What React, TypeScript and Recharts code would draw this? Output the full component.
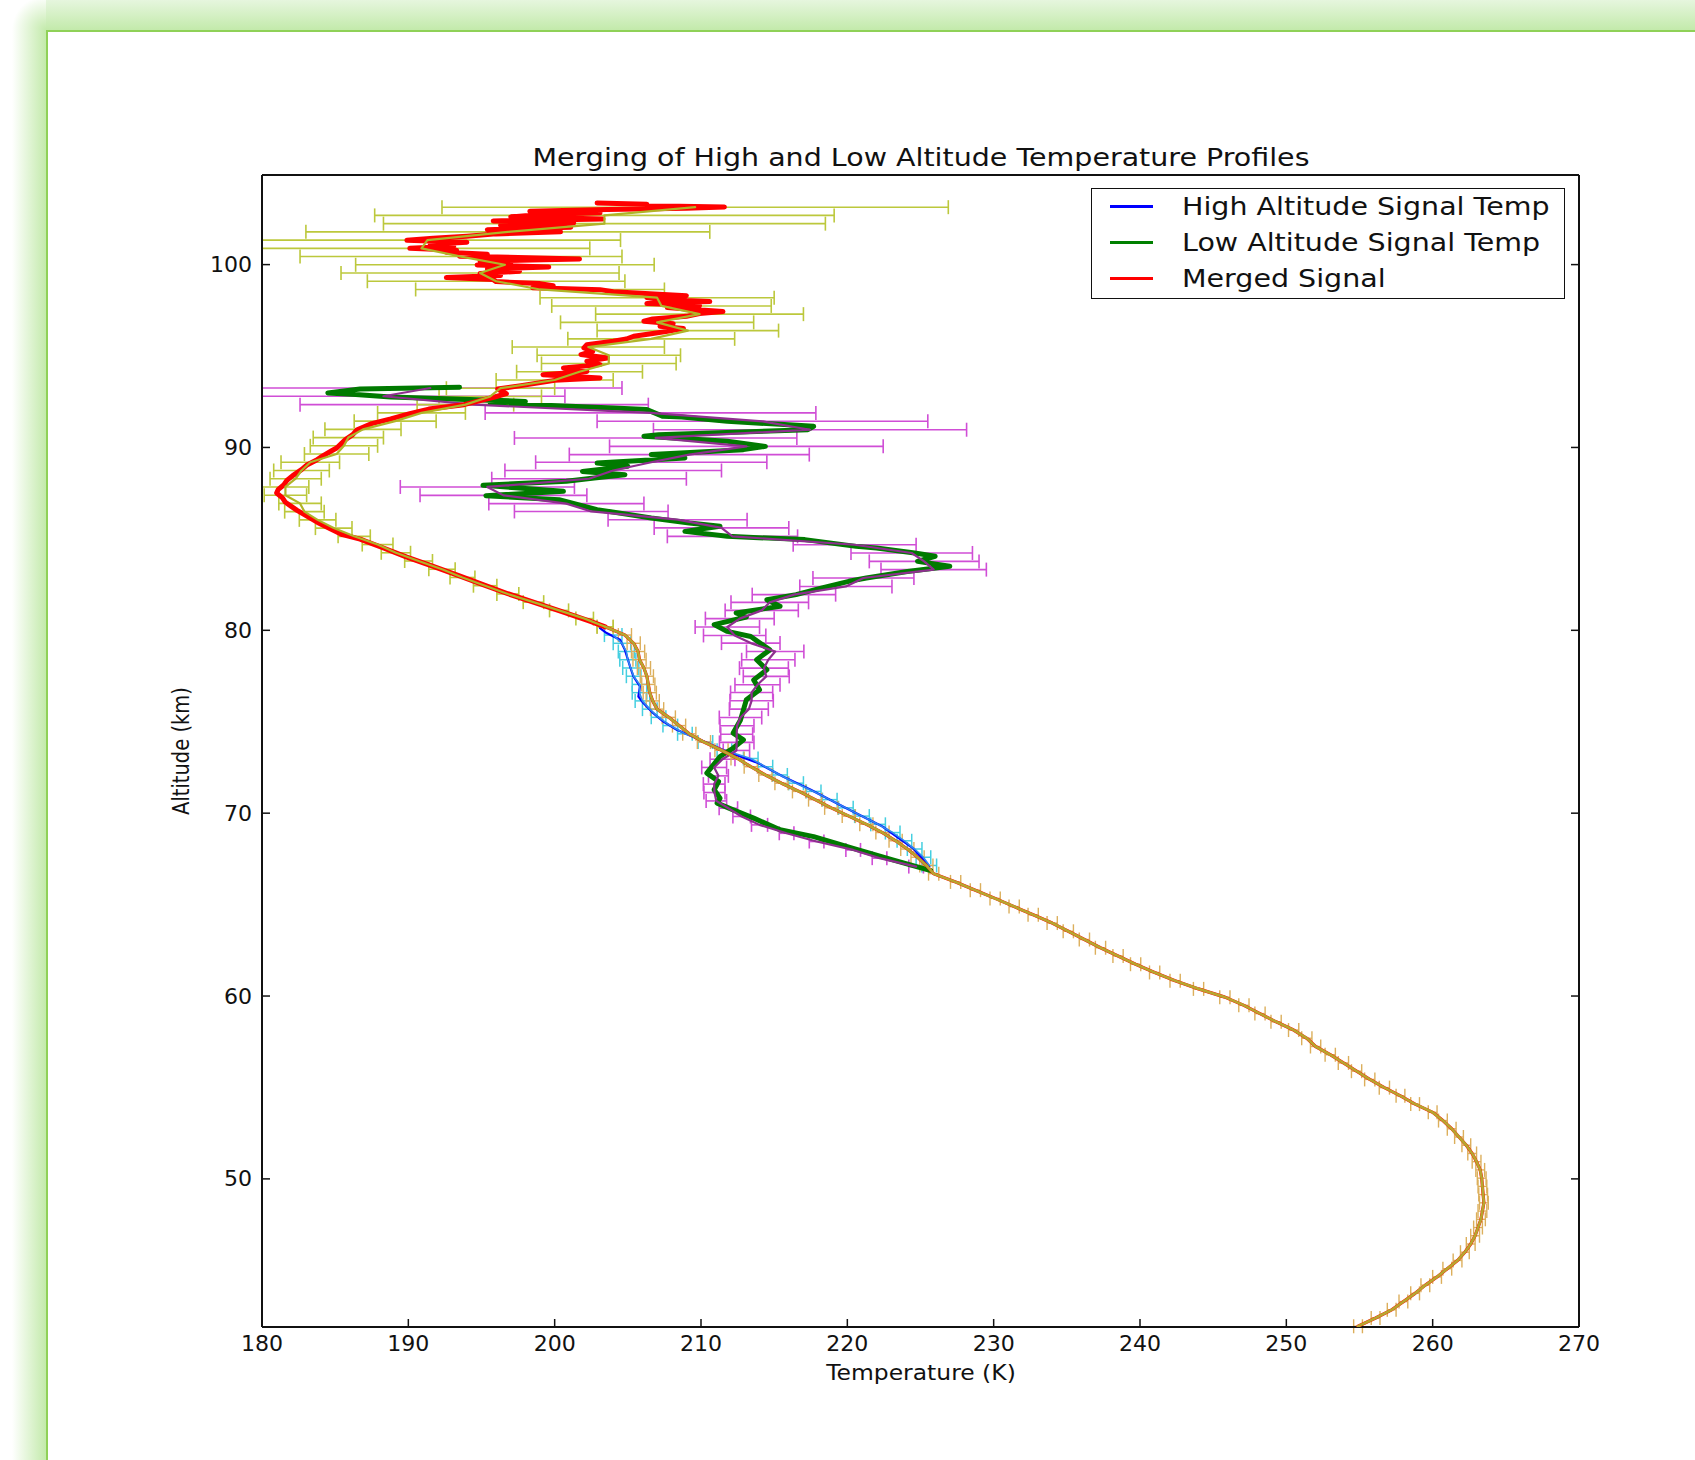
import React from 'react';
import { ScatterChart, Scatter, XAxis, YAxis, ErrorBar } from 'recharts';

const FONT = '"DejaVu Sans", Verdana, sans-serif';

const TITLE = 'Merging of High and Low Altitude Temperature Profiles';
const X_LABEL = 'Temperature (K)';
const Y_LABEL = 'Altitude (km)';
const X_DOMAIN: [number, number] = [180, 270];
const Y_DOMAIN: [number, number] = [41.9, 104.9];
const X_TICKS = [180, 190, 200, 210, 220, 230, 240, 250, 260, 270];
const Y_TICKS = [50, 60, 70, 80, 90, 100];
const LEGEND = [
  { label: 'High Altitude Signal Temp', color: '#0000ff' },
  { label: 'Low Altitude Signal Temp', color: '#008000' },
  { label: 'Merged Signal', color: '#ff0000' },
];

// Merged signal, binned, upper part (yellow-green error bars)
const mergedUpperAlt = [103.14, 102.69, 102.24, 101.79, 101.34, 100.89, 100.44, 99.99, 99.54, 99.09, 98.64, 98.19, 97.74, 97.29, 96.84, 96.39, 95.94, 95.49, 95.04, 94.59, 94.14, 93.69, 93.24, 92.79, 92.34, 91.89, 91.44, 90.99, 90.54, 90.09, 89.64, 89.19, 88.74, 88.29, 87.84, 87.39, 86.94, 86.49, 86.04, 85.59, 85.14, 84.69, 84.24, 83.79, 83.34, 82.89, 82.44, 81.99, 81.54, 81.09, 80.64, 80.19];
const mergedUpperTemp = [209.6, 203.4, 203.4, 196.8, 191.3, 190.9, 193.6, 196.6, 194.9, 196.0, 199.0, 207.0, 207.3, 209.9, 207.0, 209.1, 206.6, 202.3, 203.7, 203.7, 201.7, 200.0, 196.3, 195.6, 193.9, 190.9, 189.1, 186.9, 185.9, 185.6, 185.1, 183.3, 182.7, 182.3, 181.6, 181.6, 182.6, 182.9, 183.8, 184.9, 186.3, 187.9, 189.15, 190.7, 192.3, 193.7, 195.25, 196.8, 198.55, 200.3, 202.05, 203.45];
const mergedUpperErr = [17.3, 15.7, 15.1, 13.8, 13.2, 11.5, 11.0, 10.2, 9.5, 8.8, 8.5, 8.0, 7.5, 7.1, 6.6, 6.2, 5.7, 5.2, 4.9, 4.6, 4.3, 4.0, 3.7, 3.5, 3.3, 3.0, 2.8, 2.6, 2.4, 2.3, 2.2, 2.0, 1.9, 1.75, 1.6, 1.45, 1.45, 1.35, 1.25, 1.25, 1.1, 1.05, 1.0, 0.95, 0.9, 0.85, 0.8, 0.75, 0.7, 0.65, 0.6, 0.55];

// Merged signal, binned, lower part (tan error bars)
const mergedLowerAlt = [80.19, 79.74, 79.29, 78.84, 78.39, 77.94, 77.49, 77.04, 76.59, 76.14, 75.69, 75.24, 74.79, 74.34, 73.89, 73.44, 72.99, 72.54, 72.09, 71.64, 71.19, 70.74, 70.29, 69.84, 69.39, 68.94, 68.49, 68.04, 67.59, 67.14, 66.69, 66.24, 65.79, 65.34, 64.89, 64.44, 63.99, 63.54, 63.09, 62.64, 62.19, 61.74, 61.29, 60.84, 60.39, 59.94, 59.49, 59.04, 58.59, 58.14, 57.69, 57.24, 56.79, 56.34, 55.89, 55.44, 54.99, 54.54, 54.09, 53.64, 53.19, 52.74, 52.29, 51.84, 51.39, 50.94, 50.49, 50.04, 49.59, 49.14, 48.69, 48.24, 47.79, 47.34, 46.89, 46.44, 45.99, 45.54, 45.09, 44.64, 44.19, 43.74, 43.29, 42.84, 42.39, 41.94];
const mergedLowerTemp = [203.45, 204.8, 205.4, 205.7, 205.8, 206.1, 206.3, 206.4, 206.5, 206.7, 207.0, 207.8, 208.5, 209.2, 210.2, 211.4, 212.5, 213.4, 214.4, 215.5, 216.7, 217.8, 218.9, 220.1, 221.3, 222.4, 223.3, 224.1, 224.8, 225.4, 225.9, 227.4, 228.75, 230.1, 231.4, 232.7, 234.0, 235.1, 236.2, 237.3, 238.5, 239.7, 241.0, 242.4, 244.0, 245.8, 247.1, 248.2, 249.3, 250.5, 251.4, 252.0, 253.0, 253.9, 254.8, 255.7, 256.7, 257.8, 258.8, 260.0, 260.7, 261.3, 261.8, 262.3, 262.7, 263.0, 263.25, 263.35, 263.4, 263.45, 263.5, 263.4, 263.3, 263.1, 262.9, 262.6, 262.2, 261.7, 261.0, 260.3, 259.5, 258.8, 258.0, 257.2, 256.1, 254.9];
const mergedLowerErr = [0.55, 0.45, 0.45, 0.45, 0.45, 0.45, 0.45, 0.45, 0.45, 0.45, 0.45, 0.45, 0.45, 0.45, 0.45, 0.45, 0.45, 0.45, 0.45, 0.45, 0.45, 0.45, 0.45, 0.45, 0.45, 0.45, 0.45, 0.45, 0.45, 0.45, 0.35, 0.35, 0.35, 0.35, 0.35, 0.35, 0.35, 0.35, 0.35, 0.35, 0.35, 0.35, 0.35, 0.35, 0.35, 0.35, 0.35, 0.35, 0.35, 0.35, 0.35, 0.35, 0.35, 0.35, 0.35, 0.35, 0.35, 0.3, 0.3, 0.3, 0.3, 0.3, 0.3, 0.3, 0.3, 0.3, 0.3, 0.3, 0.3, 0.3, 0.3, 0.3, 0.3, 0.3, 0.3, 0.3, 0.3, 0.3, 0.3, 0.3, 0.3, 0.3, 0.3, 0.3, 0.3, 0.3];

// Merged signal, raw (thick red), upper part
const mergedRawAlt = [103.37, 103.30, 103.23, 103.15, 103.08, 103.01, 102.92, 102.83, 102.74, 102.61, 102.50, 102.39, 102.28, 102.15, 102.04, 101.91, 101.79, 101.68, 101.55, 101.44, 101.33, 101.22, 101.11, 101.00, 100.89, 100.78, 100.67, 100.56, 100.46, 100.31, 100.20, 100.09, 99.98, 99.87, 99.76, 99.64, 99.51, 99.40, 99.29, 99.18, 99.07, 98.96, 98.85, 98.74, 98.63, 98.52, 98.41, 98.30, 98.20, 98.09, 97.98, 97.87, 97.76, 97.65, 97.54, 97.43, 97.32, 97.17, 97.03, 96.90, 96.77, 96.63, 96.50, 96.35, 96.23, 96.08, 95.93, 95.81, 95.62, 95.44, 95.26, 95.08, 94.89, 94.71, 94.53, 94.35, 94.16, 93.98, 93.80, 93.67, 93.38, 93.20, 92.94, 92.76, 92.34, 92.10, 91.85, 91.56, 91.30, 90.97, 90.70, 90.43, 89.97, 89.79, 89.51, 89.30, 89.06, 88.79, 88.46, 88.20, 87.96, 87.69, 87.51, 87.24, 87.00, 86.78, 86.56, 86.23, 85.90, 85.54, 85.23, 84.99, 84.50, 84.00, 83.50, 83.00, 82.50, 82.00, 81.50, 81.00, 80.50, 80.19];
const mergedRawTemp = [202.9, 206.3, 205.4, 211.6, 209.0, 203.6, 198.3, 203.1, 199.0, 197.0, 203.3, 195.8, 201.3, 196.3, 201.1, 195.4, 200.4, 196.0, 194.0, 191.7, 189.9, 194.0, 191.5, 193.1, 190.1, 193.3, 192.6, 195.4, 193.5, 201.7, 194.9, 197.0, 194.7, 199.6, 195.4, 197.6, 194.9, 196.3, 192.6, 195.8, 196.0, 199.0, 199.9, 198.5, 203.1, 204.0, 206.5, 209.0, 206.3, 207.2, 210.6, 206.3, 209.9, 207.7, 209.5, 211.5, 209.9, 209.0, 206.7, 206.1, 208.1, 207.2, 208.8, 207.7, 206.7, 205.4, 204.9, 204.0, 202.2, 202.0, 202.6, 201.8, 203.6, 202.2, 203.1, 200.6, 202.2, 199.2, 203.1, 200.0, 197.7, 196.1, 196.7, 195.9, 193.8, 191.4, 190.1, 188.8, 187.5, 186.5, 186.2, 185.7, 185.1, 184.7, 184.1, 183.7, 183.1, 182.7, 182.1, 181.7, 181.5, 181.1, 181.0, 181.4, 181.6, 182.0, 182.4, 183.1, 183.8, 184.7, 185.5, 186.7, 188.3, 189.9, 191.7, 193.4, 195.1, 196.8, 198.7, 200.6, 202.4, 203.45];

// Low altitude signal, raw (thick green)
const lowRawAlt = [93.29, 93.20, 92.98, 92.89, 92.76, 92.52, 92.43, 92.16, 92.07, 91.70, 91.67, 91.43, 91.25, 91.16, 90.97, 90.70, 90.61, 90.34, 90.06, 89.88, 89.61, 89.42, 89.15, 88.97, 88.69, 88.51, 88.33, 88.15, 87.93, 87.60, 87.36, 87.14, 86.60, 86.14, 85.87, 85.69, 85.41, 85.14, 84.96, 84.59, 84.50, 84.23, 84.05, 83.77, 83.50, 83.22, 82.86, 82.68, 82.31, 81.95, 81.67, 81.31, 80.95, 80.73, 80.31, 79.94, 79.66, 78.93, 78.39, 77.84, 77.29, 76.75, 76.20, 75.65, 75.10, 74.38, 74.01, 73.56, 73.10, 72.19, 71.73, 71.28, 70.82, 70.55, 70.18, 69.73, 69.09, 68.72, 68.08, 67.45, 66.86];
const lowRawTemp = [193.5, 186.7, 184.5, 186.4, 188.8, 198.0, 195.6, 204.0, 206.3, 207.4, 208.7, 211.8, 215.7, 217.7, 217.3, 207.1, 206.1, 211.8, 214.4, 212.9, 206.6, 208.9, 202.9, 205.0, 201.9, 204.8, 202.7, 200.8, 195.1, 200.6, 195.3, 200.3, 202.9, 206.6, 209.2, 211.3, 208.9, 211.8, 217.1, 220.6, 222.0, 224.6, 226.0, 224.8, 227.0, 224.1, 221.3, 220.1, 218.2, 216.5, 214.5, 215.4, 212.4, 213.1, 210.9, 211.8, 213.4, 214.7, 213.8, 214.5, 213.6, 214.0, 213.1, 212.9, 212.7, 212.2, 212.9, 212.2, 211.3, 210.4, 211.2, 210.9, 211.3, 211.1, 212.2, 213.6, 215.4, 217.7, 220.4, 223.1, 225.7];

// Low altitude signal, binned (purple line, magenta error bars)
const lowAlt = [93.25, 92.80, 92.34, 91.89, 91.43, 90.97, 90.52, 90.06, 89.61, 89.19, 88.74, 88.29, 87.84, 87.38, 86.93, 86.50, 86.05, 85.60, 85.14, 84.68, 84.23, 83.77, 83.32, 82.86, 82.40, 81.95, 81.53, 81.09, 80.64, 80.18, 79.72, 79.30, 78.84, 78.39, 77.93, 77.48, 77.02, 76.60, 76.15, 75.69, 75.23, 74.78, 74.32, 73.87, 73.43, 72.95, 72.50, 72.04, 71.59, 71.13, 70.67, 70.27, 69.82, 69.36, 68.90, 68.45, 67.99, 67.54, 67.08];
const lowTemp = [191.5, 188.3, 194.5, 206.55, 214.2, 217.45, 206.9, 213.1, 209.2, 206.6, 204.0, 202.35, 195.4, 196.5, 200.8, 202.5, 208.4, 211.4, 212.15, 220.5, 224.4, 225.25, 225.9, 221.1, 219.9, 216.35, 214.7, 214.15, 212.65, 211.8, 212.3, 213.4, 215.07, 214.6, 214.3, 214.46, 213.86, 213.46, 213.46, 213.27, 212.7, 212.46, 212.44, 212.44, 212.42, 211.47, 210.9, 211.19, 210.9, 210.92, 211.05, 211.87, 212.78, 214.0, 215.85, 217.9, 220.4, 222.2, 224.7];
const lowErr = [13.1, 12.4, 11.9, 11.3, 11.3, 10.7, 9.65, 9.35, 8.2, 7.9, 7.4, 6.65, 5.95, 5.7, 5.3, 5.25, 4.75, 4.6, 4.45, 4.2, 4.15, 3.75, 3.6, 3.45, 3.15, 2.85, 2.65, 2.5, 2.35, 2.2, 2.13, 2.0, 1.96, 1.82, 1.67, 1.57, 1.54, 1.44, 1.48, 1.33, 1.45, 1.16, 1.09, 1.18, 0.9, 0.85, 0.85, 0.68, 0.74, 0.72, 0.7, 0.63, 0.6, 0.55, 0.5, 0.5, 0.5, 0.5, 0.5];

// High altitude signal, raw (blue)
const highRawAlt = [80.12, 79.85, 79.48, 78.93, 78.02, 77.48, 76.93, 76.38, 76.02, 75.47, 75.01, 74.56, 74.01, 73.37, 72.74, 72.01, 71.28, 70.36, 69.27, 68.08, 67.08];
const highRawTemp = [203.1, 203.55, 204.47, 204.8, 205.15, 205.38, 205.83, 205.72, 206.06, 206.74, 207.43, 208.34, 209.93, 211.76, 213.9, 215.6, 217.5, 219.7, 222.4, 224.5, 225.6];

// High altitude signal, binned (cyan error bars)
const highAlt = [79.74, 79.29, 78.84, 78.39, 77.94, 77.49, 77.04, 76.59, 76.14, 75.69, 75.24, 74.79, 74.34, 73.89, 73.44, 72.99, 72.54, 72.09, 71.64, 71.19, 70.74, 70.29, 69.84, 69.39, 68.94, 68.49, 68.04, 67.59, 67.14];
const highTemp = [204.0, 204.6, 204.9, 205.0, 205.2, 205.4, 205.8, 205.8, 206.0, 206.5, 207.1, 207.9, 208.9, 210.3, 211.6, 213.4, 214.4, 215.4, 216.5, 217.7, 218.8, 219.9, 221.0, 222.1, 223.1, 223.9, 224.6, 225.2, 225.6];
const highErr = [0.6, 0.6, 0.55, 0.55, 0.55, 0.5, 0.5, 0.5, 0.5, 0.5, 0.5, 0.5, 0.5, 0.5, 0.5, 0.5, 0.5, 0.5, 0.5, 0.5, 0.5, 0.5, 0.5, 0.5, 0.5, 0.5, 0.5, 0.5, 0.5];

type Pt = { alt: number; t: number; err: number };
const zip = (alt: number[], temp: number[], err?: number[]): Pt[] => {
  const n = Math.min(alt.length, temp.length);
  const out: Pt[] = [];
  for (let i = 0; i < n; i++) out.push({ alt: alt[i], t: temp[i], err: err ? err[i] ?? 0 : 0 });
  return out;
};

const mergedUpper = zip(mergedUpperAlt, mergedUpperTemp, mergedUpperErr);
const mergedLower = zip(mergedLowerAlt, mergedLowerTemp, mergedLowerErr);
const mergedRaw = zip(mergedRawAlt, mergedRawTemp);
const lowRaw = zip(lowRawAlt, lowRawTemp);
const lowBinned = zip(lowAlt, lowTemp, lowErr);
const highRaw = zip(highRawAlt, highRawTemp);
const highBinned = zip(highAlt, highTemp, highErr);

// error extent limited to the visible axis range (the axes clip the bars)
const clippedErr = (d: Pt) => [Math.min(d.err, d.t - X_DOMAIN[0]), Math.min(d.err, X_DOMAIN[1] - d.t)];

const W = 1695;
const H = 1460;
const PLOT = { left: 262, right: 1579, top: 175, bottom: 1327 };
const Y_AXIS_W = 80;
const X_AXIS_H = 60;
const EDGE = 10;

const Empty = () => <g />;

const XTick = (props: any) => {
  const { x, y, payload } = props;
  return (
    <g transform={`translate(${x},${y}) scale(1.05,1)`}>
      <text x={0} y={0} dy="0.76em" textAnchor="middle" fontFamily={FONT} fontSize={21} fill="#111">
        {payload.value}
      </text>
    </g>
  );
};

const YTick = (props: any) => {
  const { x, y, payload } = props;
  return (
    <g transform={`translate(${x},${y}) scale(1.05,1)`}>
      <text x={0} y={0} dy="0.36em" textAnchor="end" fontFamily={FONT} fontSize={21} fill="#111">
        {payload.value}
      </text>
    </g>
  );
};

const axisLine = { stroke: '#111', strokeWidth: 2 };
const tickLine = { stroke: '#111', strokeWidth: 1.5 };
const join = { strokeLinejoin: 'round' as const, strokeLinecap: 'round' as const };

export default function App() {
  return (
    <div style={{ position: 'absolute', left: 0, top: 0, width: W, height: H, background: '#fff', overflow: 'hidden', fontFamily: FONT }}>
      {/* frame */}
      <div style={{ position: 'absolute', left: 12, top: 30, width: 34, height: H, background: 'linear-gradient(to right, #ffffff, #c3eaab)' }} />
      <div style={{ position: 'absolute', left: 46, top: 0, width: W, height: 30, background: 'linear-gradient(to bottom, #e6f6de, #c3eaab)' }} />
      <div style={{ position: 'absolute', left: 12, top: 0, width: 34, height: 30, background: 'radial-gradient(circle at 100% 100%, #c3eaab 0px, #ffffff 34px)' }} />
      <div style={{ position: 'absolute', left: 46, top: 30, width: W, height: H, borderLeft: '2px solid #8fd157', borderTop: '2px solid #8fd157', background: '#fff' }} />

      <div style={{ position: 'absolute', left: 0, top: 0 }}>
        <ScatterChart
          width={W}
          height={H}
          margin={{ left: PLOT.left - Y_AXIS_W, right: W - PLOT.right - EDGE, top: PLOT.top - EDGE, bottom: H - PLOT.bottom - X_AXIS_H }}
        >
          <XAxis
            xAxisId="b"
            type="number"
            dataKey="t"
            domain={X_DOMAIN}
            ticks={X_TICKS}
            interval={0}
            allowDataOverflow
            orientation="bottom"
            height={X_AXIS_H}
            tickSize={-8}
            tickMargin={16}
            axisLine={axisLine}
            tickLine={tickLine}
            tick={XTick}
          />
          <XAxis
            xAxisId="t"
            type="number"
            domain={X_DOMAIN}
            ticks={X_TICKS}
            interval={0}
            allowDataOverflow
            orientation="top"
            height={EDGE}
            tickSize={-8}
            axisLine={axisLine}
            tickLine={tickLine}
            tick={Empty}
          />
          <YAxis
            yAxisId="l"
            type="number"
            dataKey="alt"
            domain={Y_DOMAIN}
            ticks={Y_TICKS}
            interval={0}
            allowDataOverflow
            orientation="left"
            width={Y_AXIS_W}
            tickSize={-8}
            tickMargin={18}
            axisLine={axisLine}
            tickLine={tickLine}
            tick={YTick}
          />
          <YAxis
            yAxisId="r"
            type="number"
            domain={Y_DOMAIN}
            ticks={Y_TICKS}
            interval={0}
            allowDataOverflow
            orientation="right"
            width={EDGE}
            tickSize={-8}
            axisLine={axisLine}
            tickLine={tickLine}
            tick={Empty}
          />

          {/* High altitude raw + binned */}
          <Scatter xAxisId="b" yAxisId="l" data={highRaw} line={{ stroke: '#0000ff', strokeWidth: 2.2, ...join }} shape={Empty} isAnimationActive={false} legendType="none" />
          <Scatter xAxisId="b" yAxisId="l" data={highBinned} line={{ stroke: '#2f8cf0', strokeWidth: 1.6, ...join }} shape={Empty} isAnimationActive={false} legendType="none">
            <ErrorBar dataKey={clippedErr} direction="x" width={7} stroke="#45cfe0" strokeWidth={1.5} isAnimationActive={false} />
          </Scatter>

          {/* Low altitude raw + binned */}
          <Scatter xAxisId="b" yAxisId="l" data={lowRaw} line={{ stroke: '#007a00', strokeWidth: 5, ...join }} shape={Empty} isAnimationActive={false} legendType="none" />
          <Scatter xAxisId="b" yAxisId="l" data={lowBinned} line={{ stroke: '#8e2f8e', strokeWidth: 2.2, ...join }} shape={Empty} isAnimationActive={false} legendType="none">
            <ErrorBar dataKey={clippedErr} direction="x" width={7} stroke="#d04ed6" strokeWidth={1.6} isAnimationActive={false} />
          </Scatter>

          {/* Merged raw (red) */}
          <Scatter xAxisId="b" yAxisId="l" data={mergedLower} line={{ stroke: '#ff0000', strokeWidth: 3.2, ...join }} shape={Empty} isAnimationActive={false} legendType="none" />
          <Scatter xAxisId="b" yAxisId="l" data={mergedRaw} line={{ stroke: '#ff0000', strokeWidth: 5, ...join }} shape={Empty} isAnimationActive={false} legendType="none" />

          {/* Merged binned */}
          <Scatter xAxisId="b" yAxisId="l" data={mergedLower} line={{ stroke: '#b8a62e', strokeWidth: 2.7, ...join }} shape={Empty} isAnimationActive={false} legendType="none">
            <ErrorBar dataKey={clippedErr} direction="x" width={7} stroke="#dcaf5c" strokeWidth={1.4} isAnimationActive={false} />
          </Scatter>
          <Scatter xAxisId="b" yAxisId="l" data={mergedUpper} line={{ stroke: '#b0b428', strokeWidth: 2.2, ...join }} shape={Empty} isAnimationActive={false} legendType="none">
            <ErrorBar dataKey={clippedErr} direction="x" width={7} stroke="#bcc83c" strokeWidth={1.6} isAnimationActive={false} />
          </Scatter>
        </ScatterChart>
      </div>

      {/* title */}
      <div style={{ position: 'absolute', left: (PLOT.left + PLOT.right) / 2, top: 145, fontSize: 25, lineHeight: 1, whiteSpace: 'nowrap', color: '#111', transform: 'translateX(-50%) scaleX(1.14)' }}>
        {TITLE}
      </div>

      {/* x label */}
      <div style={{ position: 'absolute', left: (PLOT.left + PLOT.right) / 2, top: 1362, fontSize: 21.5, lineHeight: 1, whiteSpace: 'nowrap', color: '#111', transform: 'translateX(-50%) scaleX(1.09)' }}>
        {X_LABEL}
      </div>

      {/* y label */}
      <div style={{ position: 'absolute', left: 182, top: (PLOT.top + PLOT.bottom) / 2, fontSize: 19.5, lineHeight: 1, whiteSpace: 'nowrap', color: '#111', transform: 'translate(-50%,-50%) scaleX(1.14) rotate(-90deg)' }}>
        {Y_LABEL}
      </div>

      {/* legend */}
      <div style={{ position: 'absolute', left: 1091, top: 188, width: 474, height: 111, boxSizing: 'border-box', border: '1.6px solid #111', background: '#fff' }}>
        {LEGEND.map((e, i) => (
          <React.Fragment key={e.label}>
            <div style={{ position: 'absolute', left: 18, top: 15.5 + i * 36, width: 43, height: 3, background: e.color }} />
            <div style={{ position: 'absolute', left: 90, top: 4.5 + i * 36, fontSize: 25, lineHeight: 1, whiteSpace: 'nowrap', color: '#111', transform: 'scaleX(1.14)', transformOrigin: '0 0' }}>
              {e.label}
            </div>
          </React.Fragment>
        ))}
      </div>
    </div>
  );
}
